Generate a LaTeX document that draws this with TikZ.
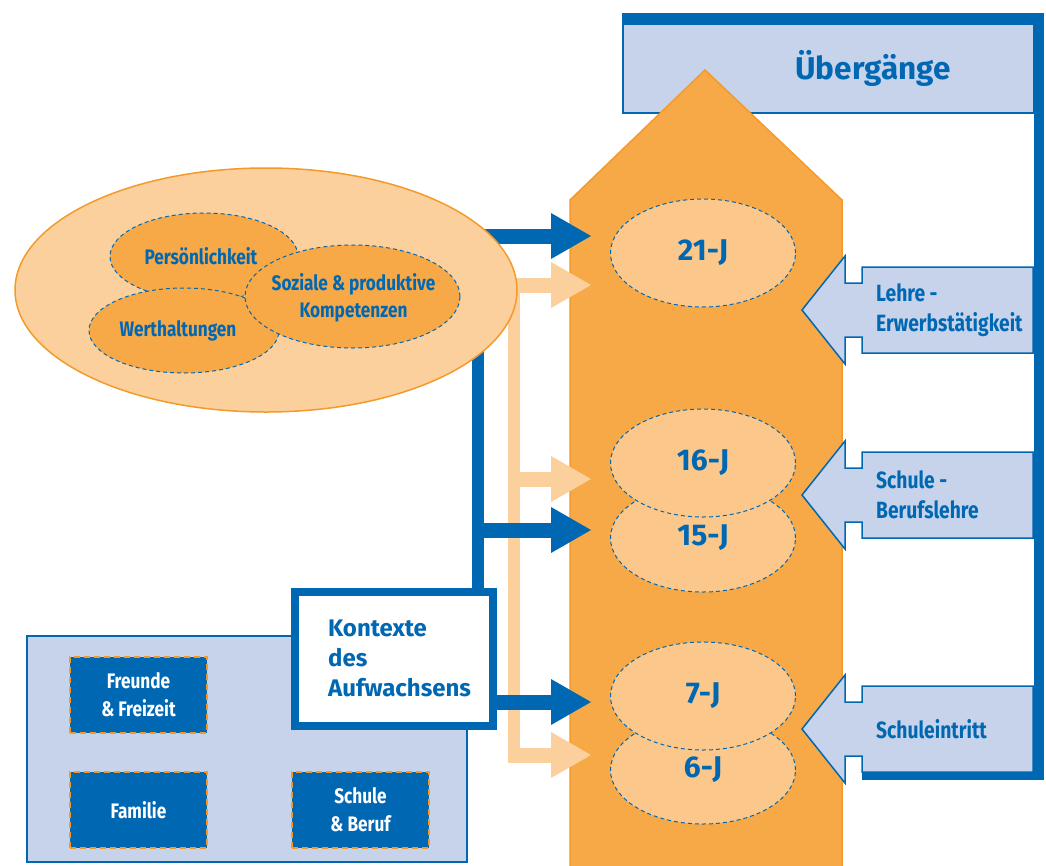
\documentclass[tikz,border=0pt]{standalone}
\usepackage{fontspec}
\setmainfont{Fira Sans}
\newfontfamily\schmal{Fira Sans}[FakeStretch=0.82]
\usetikzlibrary{shapes.geometric, arrows.meta, positioning}
\definecolor{ublau}{RGB}{0,104,179}
\definecolor{hblau}{RGB}{198,211,234}
\definecolor{orangefeld}{RGB}{248,169,71}
\definecolor{orangerand}{RGB}{243,154,43}
\definecolor{pfirsich}{RGB}{251,208,156}
\definecolor{alterfarbe}{RGB}{251,199,138}
\tikzset{
  jahr/.style={ellipse, draw=ublau, dashed, dash pattern=on 4pt off 3pt, line width=1pt, fill=alterfarbe, minimum width=185pt, minimum height=108pt, inner sep=0pt, text=ublau, font=\bfseries\fontsize{30}{30}\selectfont},
  innen/.style={ellipse, draw=ublau, dashed, dash pattern=on 4pt off 3pt, line width=1pt, fill=orangefeld, inner sep=0pt},
  innentext/.style={text=ublau, align=center, inner sep=0pt, font=\schmal\bfseries\fontsize{21}{27}\selectfont},
  kasten/.style={draw=orangerand, dashed, dash pattern=on 6pt off 4pt, line width=1.5pt, fill=ublau, minimum width=137pt, minimum height=76pt, text=white, align=center, font=\schmal\bfseries\fontsize{21}{28}\selectfont},
  kontext/.style={draw=ublau, line width=8pt, fill=white, minimum width=198pt, minimum height=134.5pt},
  ktext/.style={text=ublau, align=left, inner sep=0pt, font=\bfseries\fontsize{24}{30}\selectfont},
  blaupfeil/.style={draw=ublau, line width=15pt, -{Triangle[width=46pt,length=40pt,line width=0pt]}, shorten >=19pt},
  hellpfeil/.style={draw=pfirsich, line width=15pt, -{Triangle[width=46pt,length=40pt,line width=0pt]}, shorten >=19pt},
  uefeld/.style={draw=ublau, fill=hblau, line width=1.5pt},
  uetext/.style={text=ublau, align=left, anchor=west, inner sep=0pt, font=\schmal\bfseries\fontsize{23.5}{30}\selectfont}
}
\newcommand\uebergangspfeil[3]{%
  \draw[uefeld] (802,#2) -- (845,#2-54) -- (845,#2-27) -- (862,#2-27) -- (862,#2-43) -- (1033,#2-43) -- (1033,#2+43) -- (862,#2+43) -- (862,#2+27) -- (845,#2+27) -- (845,#2+54) -- cycle;
  \node[uetext] (#1) at (876,#2) {#3};}

\begin{document}
\begin{tikzpicture}[x=1pt, y=-1pt]
\useasboundingbox (0,0) rectangle (1046,865);

\node[draw=ublau, fill=hblau, line width=1.5pt, minimum width=411pt, minimum height=89pt, inner sep=0pt, anchor=north west] (uebox) at (622,23) {};
\node[text=ublau, font=\bfseries\fontsize{31.5}{31.5}\selectfont] (titel) at (873,68) {Übergänge};
\draw[ublau, line width=10pt] (622,18) -- (1038.5,18) -- (1038.5,775) -- (862,775);

\draw[fill=orangefeld, draw=orangerand, line width=1.5pt] (570,870) -- (570,200) -- (705,70) -- (842,200) -- (842,870) -- cycle;

\node[jahr] (j21) at (703,253) {21-J};
\node[jahr] (j15) at (703,538) {15-J};
\node[jahr] (j16) at (703,463) {16-J};
\node[jahr] (j6) at (703,770) {6-J};
\node[jahr] (j7) at (703,696) {7-J};

\uebergangspfeil{lehre}{310}{Lehre -\\Erwerbstätigkeit}
\uebergangspfeil{beruf}{495}{Schule -\\Berufslehre}
\uebergangspfeil{eintritt}{729}{Schuleintritt}

\node[draw=ublau, fill=hblau, line width=1.5pt, minimum width=440pt, minimum height=226pt, inner sep=0pt] (umfeld) at (247,749) {};
\node[kasten] (freunde) at (138.5,695) {Freunde\\\& Freizeit};
\node[kasten] (familie) at (138.5,810) {Familie};
\node[kasten] (schule) at (360.5,810) {Schule\\\& Beruf};
\node[kontext] (kontexte) at (393.5,658.75) {};
\node[ktext, right=37.5pt of kontexte.west] (ktitel) {Kontexte\\des\\Aufwachsens};

\coordinate (pOben) at (508,285);
\coordinate (p16) at (508,479);
\coordinate (p6) at (508,755);
\draw[pfirsich, line width=12pt] (514,285) -- (514,755);
\draw[hellpfeil] (pOben) -- (pOben -| j21.west);
\draw[hellpfeil] (p16) -- (p16 -| j16.west);
\draw[hellpfeil] (p6) -- (p6 -| j6.west);

\coordinate (bKopf) at (477.5,236);
\coordinate (bOben) at (471.5,236);
\coordinate (b15) at (471.5,530);
\coordinate (b7) at (490,702);
\draw[ublau, line width=12pt] (kontexte.north -| bKopf) -- (bKopf);
\draw[blaupfeil] (bOben) -- (bOben -| j21.west);
\draw[blaupfeil] (b15) -- (b15 -| j15.west);
\draw[blaupfeil] (b7) -- (b7 -| j7.west);

\node[ellipse, draw=orangerand, fill=pfirsich, line width=1.5pt, minimum width=502pt, minimum height=244pt] (entwicklung) at (266,290) {};
\node[innen, minimum width=188pt, minimum height=87pt, label={[innentext, xshift=-3pt]center:Persönlichkeit}] (perskeit) at (204,256.5) {};
\node[innen, minimum width=190pt, minimum height=85pt, label={[innentext, xshift=-6pt]center:Werthaltungen}] (werte) at (184,330.5) {};
\node[innen, minimum width=215pt, minimum height=103pt, label={[innentext, xshift=1pt, yshift=-1pt]center:{Soziale \& produktive\\Kompetenzen}}] (kompetenz) at (352.5,296.5) {};
\end{tikzpicture}
\end{document}
